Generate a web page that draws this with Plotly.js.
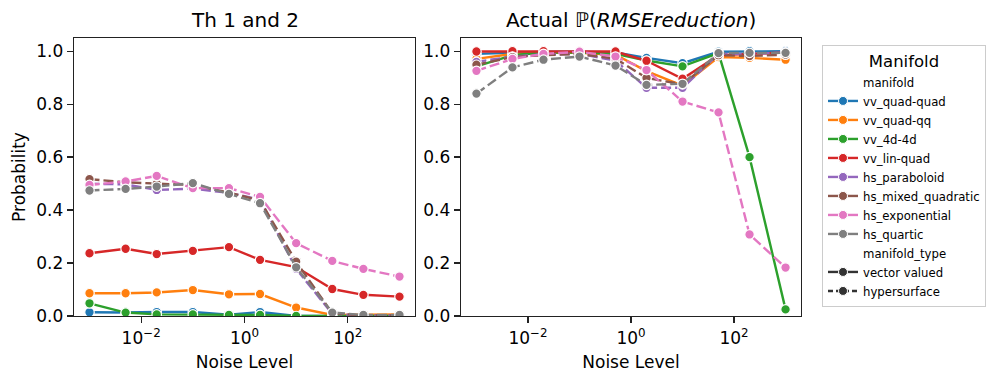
<!DOCTYPE html>
<html>
<head>
<meta charset="utf-8">
<script src="https://cdn.plot.ly/plotly-3.0.1.min.js"></script>
<style>
  html, body { margin: 0; padding: 0; background: #ffffff; }
  #chart { width: 997px; height: 383px; }
</style>
</head>
<body>
<div id="chart"></div>
<script>
var noiseLevels = [0.001, 0.005, 0.02, 0.1, 0.5, 2, 10, 50, 200, 1000];

var manifoldNames = ["vv_quad-quad", "vv_quad-qq", "vv_4d-4d", "vv_lin-quad", "hs_paraboloid", "hs_mixed_quadratic", "hs_exponential", "hs_quartic"];
var manifoldTypes = ["vector valued", "vector valued", "vector valued", "vector valued", "hypersurface", "hypersurface", "hypersurface", "hypersurface"];
var manifoldColors = ["#1f77b4", "#ff7f0e", "#2ca02c", "#d62728", "#9467bd", "#8c564b", "#e377c2", "#7f7f7f"];

// left panel: Th 1 and 2
var thVvQuadQuad = [0.014, 0.013, 0.015, 0.015, 0.005, 0.015, 0.0, 0.0, 0.0, 0.0];
var thVvQuadQq = [0.086, 0.086, 0.089, 0.098, 0.082, 0.083, 0.032, 0.004, 0.005, 0.006];
var thVv4d4d = [0.048, 0.013, 0.006, 0.006, 0.004, 0.004, 0.0, 0.0, 0.0, 0.0];
var thVvLinQuad = [0.237, 0.254, 0.234, 0.246, 0.260, 0.212, 0.185, 0.102, 0.080, 0.073];
var thHsParaboloid = [0.500, 0.497, 0.476, 0.481, 0.465, 0.440, 0.178, 0.008, 0.002, 0.002];
var thHsMixedQuadratic = [0.517, 0.505, 0.500, 0.495, 0.466, 0.436, 0.205, 0.010, 0.002, 0.002];
var thHsExponential = [0.495, 0.508, 0.529, 0.483, 0.483, 0.450, 0.275, 0.208, 0.178, 0.149];
var thHsQuartic = [0.474, 0.480, 0.489, 0.502, 0.461, 0.426, 0.184, 0.013, 0.004, 0.004];

// right panel: Actual P(RMSE reduction)
var actVvQuadQuad = [0.990, 0.995, 0.998, 0.998, 0.995, 0.975, 0.955, 0.998, 1.0, 1.0];
var actVvQuadQq = [0.971, 0.990, 0.994, 0.994, 0.987, 0.925, 0.870, 0.978, 0.975, 0.968];
var actVv4d4d = [0.943, 0.985, 0.995, 0.995, 0.990, 0.965, 0.943, 0.993, 0.600, 0.025];
var actVvLinQuad = [0.999, 1.0, 1.0, 0.999, 0.999, 0.964, 0.896, 0.985, 0.990, 0.995];
var actHsParaboloid = [0.960, 0.980, 0.988, 0.990, 0.965, 0.862, 0.862, 0.990, 0.990, 0.995];
var actHsMixedQuadratic = [0.949, 0.978, 0.985, 0.990, 0.972, 0.899, 0.875, 0.985, 0.982, 0.987];
var actHsExponential = [0.926, 0.971, 0.990, 0.998, 0.980, 0.929, 0.810, 0.769, 0.308, 0.183];
var actHsQuartic = [0.840, 0.939, 0.968, 0.980, 0.946, 0.873, 0.877, 0.993, 0.994, 0.994];

var thSeries = [thVvQuadQuad, thVvQuadQq, thVv4d4d, thVvLinQuad, thHsParaboloid, thHsMixedQuadratic, thHsExponential, thHsQuartic];
var actSeries = [actVvQuadQuad, actVvQuadQq, actVv4d4d, actVvLinQuad, actHsParaboloid, actHsMixedQuadratic, actHsExponential, actHsQuartic];

var xTickValues = [0.01, 1, 100];
var xTickLabels = ["10<sup>\u22122</sup>", "10<sup>0</sup>", "10<sup>2</sup>"];
var yTickValues = [0, 0.2, 0.4, 0.6, 0.8, 1.0];

var fontFamily = "DejaVu Sans, sans-serif";
var axisColor = "#222222";

function getDash(typeName) {
  return typeName === "hypersurface" ? "10px,4px" : "solid";
}

function makeSeriesTrace(values, index, xaxisName, yaxisName) {
  return {
    x: noiseLevels,
    y: values,
    xaxis: xaxisName,
    yaxis: yaxisName,
    type: "scatter",
    mode: "lines+markers",
    showlegend: false,
    line: { color: manifoldColors[index], width: 2.4, dash: getDash(manifoldTypes[index]) },
    marker: { color: manifoldColors[index], size: 9.5, line: { color: "#ffffff", width: 1.2 } },
  };
}

function makeLegendTrace(name, color, dash, hidden) {
  return {
    x: [null],
    y: [null],
    type: "scatter",
    mode: hidden ? "lines" : "lines+markers",
    name: name,
    showlegend: true,
    line: { color: color, width: hidden ? 0 : 2.4, dash: dash },
    marker: { color: color, size: 9, line: { color: "#ffffff", width: 1 } },
  };
}

var traces = [];
for (let i = 0; i < manifoldNames.length; i++) {
  traces.push(makeSeriesTrace(thSeries[i], i, "x", "y"));
}
for (let i = 0; i < manifoldNames.length; i++) {
  traces.push(makeSeriesTrace(actSeries[i], i, "x2", "y2"));
}

traces.push(makeLegendTrace("manifold", "rgba(0,0,0,0)", "solid", true));
for (let i = 0; i < manifoldNames.length; i++) {
  traces.push(makeLegendTrace(manifoldNames[i], manifoldColors[i], "solid", false));
}
traces.push(makeLegendTrace("manifold_type", "rgba(0,0,0,0)", "solid", true));
traces.push(makeLegendTrace("vector valued", "#333333", "solid", false));
traces.push(makeLegendTrace("hypersurface", "#333333", "5px,3px", false));

function makeXAxis(domain, anchor) {
  return {
    domain: domain,
    anchor: anchor,
    type: "log",
    range: [-3.3, 3.3],
    tickvals: xTickValues,
    ticktext: xTickLabels,
    ticks: "outside",
    ticklen: 6,
    tickwidth: 1.3,
    tickcolor: axisColor,
    showline: true,
    linecolor: axisColor,
    linewidth: 1.3,
    mirror: true,
    showgrid: false,
    zeroline: false,
    tickfont: { family: fontFamily, size: 17, color: "#000000" },
    title: { text: "Noise Level", font: { family: fontFamily, size: 17, color: "#000000" }, standoff: 9 },
  };
}

function makeYAxis(domain, anchor, titleText) {
  return {
    domain: domain,
    anchor: anchor,
    range: [0, 1.05],
    tickvals: yTickValues,
    tickformat: ".1f",
    ticks: "outside",
    ticklen: 6,
    tickwidth: 1.3,
    tickcolor: axisColor,
    showline: true,
    linecolor: axisColor,
    linewidth: 1.3,
    mirror: true,
    showgrid: false,
    zeroline: false,
    tickfont: { family: fontFamily, size: 17, color: "#000000" },
    title: { text: titleText, font: { family: fontFamily, size: 17, color: "#000000" }, standoff: 6 },
  };
}

var plotTop = 1 - 38 / 383;
var plotBottom = 1 - 316 / 383;

var layout = {
  width: 997,
  height: 383,
  margin: { l: 0, r: 0, t: 0, b: 0 },
  paper_bgcolor: "#ffffff",
  plot_bgcolor: "#ffffff",
  font: { family: fontFamily, color: "#000000" },
  xaxis: makeXAxis([74 / 997, 415 / 997], "y"),
  yaxis: makeYAxis([plotBottom, plotTop], "x", "Probability"),
  xaxis2: makeXAxis([461 / 997, 801 / 997], "y2"),
  yaxis2: makeYAxis([plotBottom, plotTop], "x2", ""),
  showlegend: true,
  legend: {
    x: 822 / 997,
    y: 1 - 45 / 383,
    xanchor: "left",
    yanchor: "top",
    bgcolor: "#ffffff",
    bordercolor: "#cccccc",
    borderwidth: 1,
    font: { family: fontFamily, size: 11.7, color: "#000000" },
    title: { text: "Manifold", side: "top center", font: { family: fontFamily, size: 16.5, color: "#000000" } },
    itemwidth: 30,
    tracegroupgap: 0,
  },
  annotations: [
    {
      text: "Th 1 and 2",
      xref: "paper",
      yref: "paper",
      x: (74 + 415) / 2 / 997,
      y: 1 - 20 / 383,
      xanchor: "center",
      yanchor: "middle",
      showarrow: false,
      font: { family: fontFamily, size: 20, color: "#000000" },
    },
    {
      text: "Actual \u2119(<i>RMSEreduction</i>)",
      xref: "paper",
      yref: "paper",
      x: (461 + 801) / 2 / 997,
      y: 1 - 20 / 383,
      xanchor: "center",
      yanchor: "middle",
      showarrow: false,
      font: { family: fontFamily, size: 20, color: "#000000" },
    },
  ],
};

Plotly.newPlot("chart", traces, layout, { staticPlot: true, displayModeBar: false });
</script>
</body>
</html>
